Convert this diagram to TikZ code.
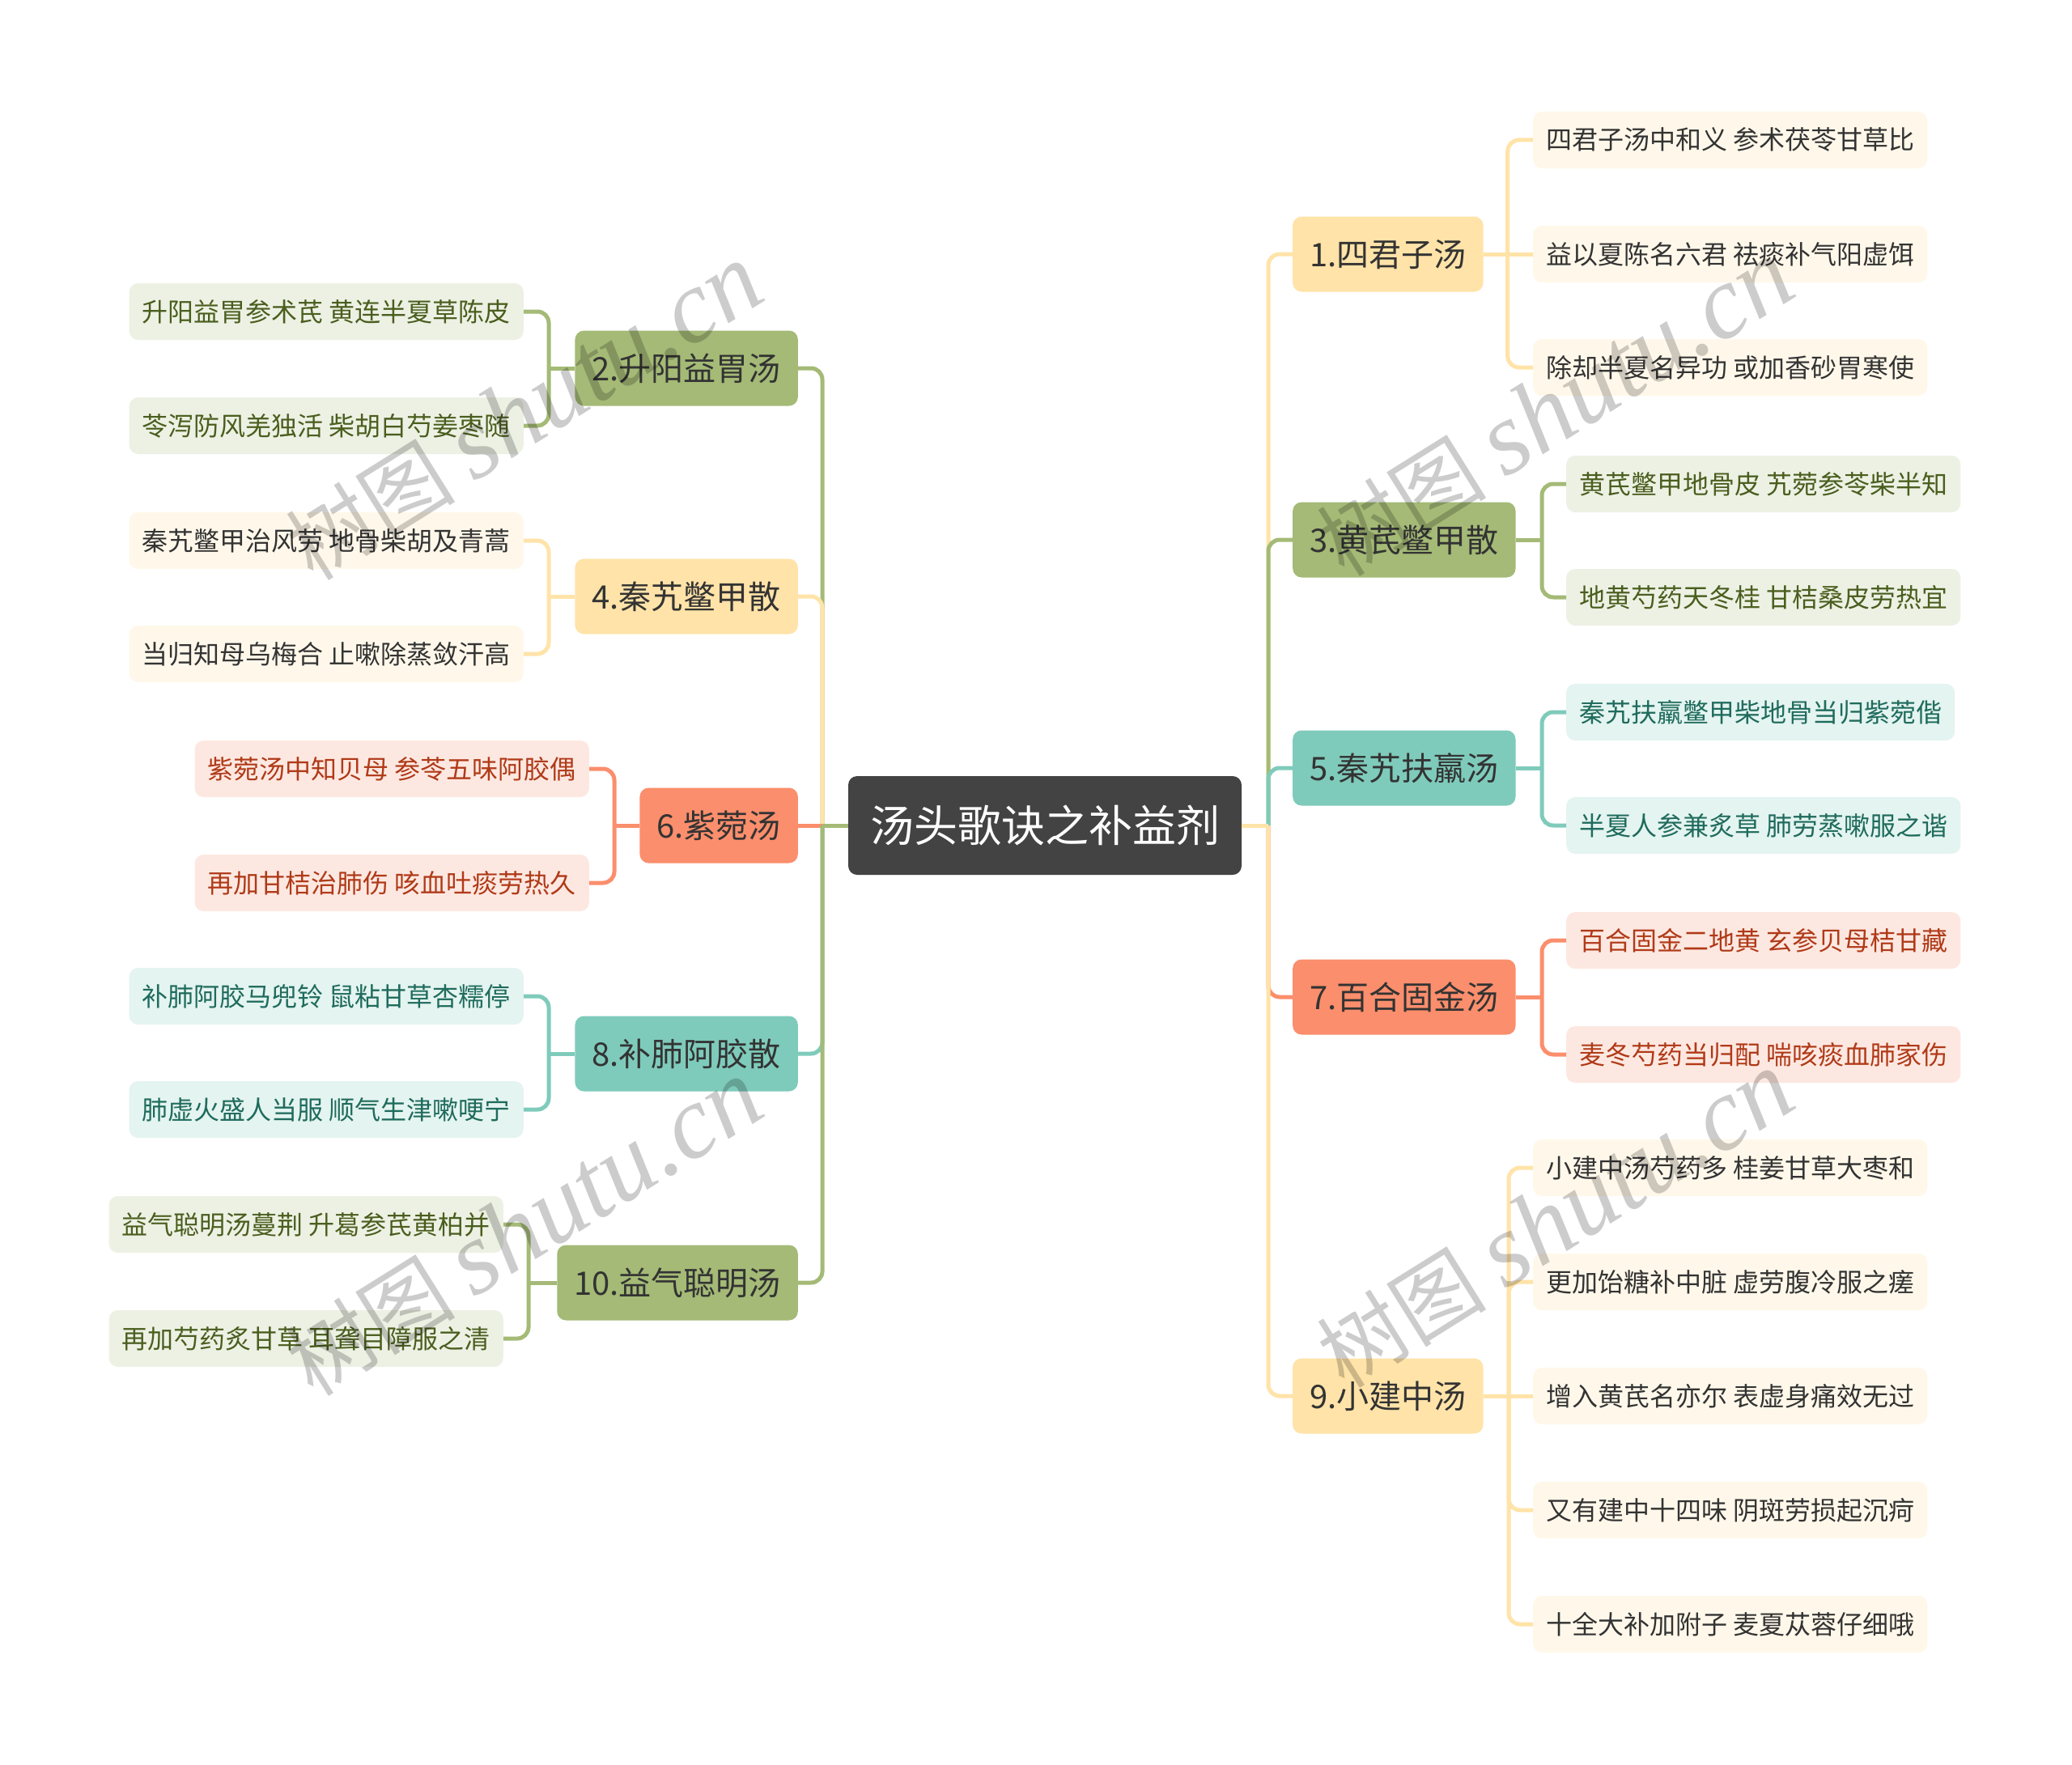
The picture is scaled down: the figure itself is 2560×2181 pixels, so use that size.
\documentclass[tikz,border=0pt]{standalone}
\usepackage{fontspec}
\setmainfont{Noto Sans CJK SC}
\newfontfamily\wmlatin{Liberation Serif}
\usetikzlibrary{calc}
\definecolor{rootc}{HTML}{434343}
\definecolor{yB}{HTML}{FFE3A8}
\definecolor{yL}{HTML}{FFF8EA}
\definecolor{yT}{HTML}{333333}
\definecolor{gB}{HTML}{A4BA76}
\definecolor{gL}{HTML}{EDF1E4}
\definecolor{gT}{HTML}{4A5E1E}
\definecolor{tB}{HTML}{7FCBBB}
\definecolor{tL}{HTML}{E4F4F0}
\definecolor{tT}{HTML}{1F6B5D}
\definecolor{oB}{HTML}{FB8E6C}
\definecolor{oL}{HTML}{FDE8E1}
\definecolor{oT}{HTML}{B03A18}
\tikzset{
  boxbase/.style={rounded corners=11pt, inner ysep=0pt},
  rootbox/.style={boxbase, fill=rootc, text=white, font=\fontsize{54}{64}\selectfont, minimum height=122pt, inner xsep=27pt, text height=46pt, text depth=5.5pt},
  brbox/.style={boxbase, text=yT, font=\fontsize{40}{48}\selectfont, minimum height=93pt, inner xsep=21pt, text height=34pt, text depth=4pt},
  leafbox/.style={boxbase, font=\fontsize{32}{38}\selectfont, minimum height=70pt, inner xsep=16pt, text height=27pt, text depth=3pt},
  leafY/.style={leafbox, fill=yL, text=yT},
  leafG/.style={leafbox, fill=gL, text=gT},
  leafT/.style={leafbox, fill=tL, text=tT},
  leafO/.style={leafbox, fill=oL, text=oT},
  ln/.style={line width=5pt},
  lnY/.style={ln, draw=yB},
  lnG/.style={ln, draw=gB},
  lnT/.style={ln, draw=tB},
  lnO/.style={ln, draw=oB},
  rc/.style={rounded corners=14pt},
  wmark/.style={rotate=32, text=black, text opacity=0.2, inner sep=0pt}
}
\begin{document}
\begin{tikzpicture}[x=1pt, y=-1pt]
\fill[white] (0,0) rectangle (2560,2181);
\useasboundingbox (0,0) rectangle (2560,2181);

% root
\node[rootbox] (root) at (1291,1020) {汤头歌诀之补益剂};
\coordinate (rt) at (1567,1020);
\coordinate (lt) at (1016,1020);

% right branches
\node[brbox, fill=yB, anchor=west] (b1) at (1597,314) {1.四君子汤};
\node[brbox, fill=gB, anchor=west] (b3) at (1597,667) {3.黄芪鳖甲散};
\node[brbox, fill=tB, anchor=west] (b5) at (1597,949) {5.秦艽扶羸汤};
\node[brbox, fill=oB, anchor=west] (b7) at (1597,1232) {7.百合固金汤};
\node[brbox, fill=yB, anchor=west] (b9) at (1597,1725) {9.小建中汤};

% left branches
\node[brbox, fill=gB, anchor=east] (b2) at (986,455) {2.升阳益胃汤};
\node[brbox, fill=yB, anchor=east] (b4) at (986,737) {4.秦艽鳖甲散};
\node[brbox, fill=oB, anchor=east] (b6) at (986,1020) {6.紫菀汤};
\node[brbox, fill=tB, anchor=east] (b8) at (986,1302) {8.补肺阿胶散};
\node[brbox, fill=gB, anchor=east] (b10) at (986,1585) {10.益气聪明汤};

% right leaves
\node[leafY, anchor=west] (l1a) at (1894,173) {四君子汤中和义 参术茯苓甘草比};
\node[leafY, anchor=west] (l1b) at (1894,314) {益以夏陈名六君 祛痰补气阳虚饵};
\node[leafY, anchor=west] (l1c) at (1894,454) {除却半夏名异功 或加香砂胃寒使};
\node[leafG, anchor=west] (l3a) at (1935,598) {黄芪鳖甲地骨皮 艽菀参苓柴半知};
\node[leafG, anchor=west] (l3b) at (1935,738) {地黄芍药天冬桂 甘桔桑皮劳热宜};
\node[leafT, anchor=west] (l5a) at (1935,880) {秦艽扶羸鳖甲柴地骨当归紫菀偕};
\node[leafT, anchor=west] (l5b) at (1935,1020) {半夏人参兼炙草 肺劳蒸嗽服之谐};
\node[leafO, anchor=west] (l7a) at (1935,1162) {百合固金二地黄 玄参贝母桔甘藏};
\node[leafO, anchor=west] (l7b) at (1935,1303) {麦冬芍药当归配 喘咳痰血肺家伤};
\node[leafY, anchor=west] (l9a) at (1894,1443) {小建中汤芍药多 桂姜甘草大枣和};
\node[leafY, anchor=west] (l9b) at (1894,1584) {更加饴糖补中脏 虚劳腹冷服之瘥};
\node[leafY, anchor=west] (l9c) at (1894,1725) {增入黄芪名亦尔 表虚身痛效无过};
\node[leafY, anchor=west] (l9d) at (1894,1866) {又有建中十四味 阴斑劳损起沉疴};
\node[leafY, anchor=west] (l9e) at (1894,2007) {十全大补加附子 麦夏苁蓉仔细哦};

% left leaves
\node[leafG, anchor=east] (l2a) at (647,385) {升阳益胃参术芪 黄连半夏草陈皮};
\node[leafG, anchor=east] (l2b) at (647,526) {苓泻防风羌独活 柴胡白芍姜枣随};
\node[leafY, anchor=east] (l4a) at (647,668) {秦艽鳖甲治风劳 地骨柴胡及青蒿};
\node[leafY, anchor=east] (l4b) at (647,808) {当归知母乌梅合 止嗽除蒸敛汗高};
\node[leafO, anchor=east] (l6a) at (728,950) {紫菀汤中知贝母 参苓五味阿胶偶};
\node[leafO, anchor=east] (l6b) at (728,1091) {再加甘桔治肺伤 咳血吐痰劳热久};
\node[leafT, anchor=east] (l8a) at (647,1231) {补肺阿胶马兜铃 鼠粘甘草杏糯停};
\node[leafT, anchor=east] (l8b) at (647,1371) {肺虚火盛人当服 顺气生津嗽哽宁};
\node[leafG, anchor=east] (l10a) at (622,1513) {益气聪明汤蔓荆 升葛参芪黄柏并};
\node[leafG, anchor=east] (l10b) at (622,1654) {再加芍药炙甘草 耳聋目障服之清};

% root -> branches (drawn in order 1..10)
\draw[lnY] (root.east) -- (rt);  \draw[lnY, rc] (rt) |- (b1.west);
\draw[lnG] (root.west) -- (lt);  \draw[lnG, rc] (lt) |- (b2.east);
\draw[lnG] (root.east) -- (rt);  \draw[lnG, rc] (rt) |- (b3.west);
\draw[lnY] (root.west) -- (lt);  \draw[lnY, rc] (lt) |- (b4.east);
\draw[lnT] (root.east) -- (rt);  \draw[lnT, rc] (rt) |- (b5.west);
\draw[lnO] (root.west) -- (b6.east);
\draw[lnO] (root.east) -- (rt);  \draw[lnO, rc] (rt) |- (b7.west);
\draw[lnT] (root.west) -- (lt);  \draw[lnT, rc] (lt) |- (b8.east);
\draw[lnY] (root.east) -- (rt);  \draw[lnY, rc] (rt) |- (b9.west);
\draw[lnG] (root.west) -- (lt);  \draw[lnG, rc] (lt) |- (b10.east);

% branch -> leaves, right
\coordinate (m1) at ($(b1.east)+(30,0)$);
\draw[lnY] (b1.east) -- (m1);
\draw[lnY, rc] (m1) |- (l1a.west);
\draw[lnY] (m1) -- (l1b.west);
\draw[lnY, rc] (m1) |- (l1c.west);

\coordinate (m3) at ($(l3a.west)+(-30,0)$);
\draw[lnG] (b3.east) -- (m3 |- b3.east);
\draw[lnG, rc] (m3 |- b3.east) |- (l3a.west);
\draw[lnG, rc] (m3 |- b3.east) |- (l3b.west);

\coordinate (m5) at ($(l5a.west)+(-30,0)$);
\draw[lnT] (b5.east) -- (m5 |- b5.east);
\draw[lnT, rc] (m5 |- b5.east) |- (l5a.west);
\draw[lnT, rc] (m5 |- b5.east) |- (l5b.west);

\coordinate (m7) at ($(l7a.west)+(-30,0)$);
\draw[lnO] (b7.east) -- (m7 |- b7.east);
\draw[lnO, rc] (m7 |- b7.east) |- (l7a.west);
\draw[lnO, rc] (m7 |- b7.east) |- (l7b.west);

\coordinate (m9) at ($(l9a.west)+(-30,0)$);
\draw[lnY] (b9.east) -- (m9 |- b9.east);
\draw[lnY, rc] (m9 |- b9.east) |- (l9a.west);
\draw[lnY, rc] (m9 |- b9.east) |- (l9b.west);
\draw[lnY] (m9 |- b9.east) -- (l9c.west);
\draw[lnY, rc] (m9 |- b9.east) |- (l9d.west);
\draw[lnY, rc] (m9 |- b9.east) |- (l9e.west);

% branch -> leaves, left
\coordinate (m2) at ($(l2a.east)+(31,0)$);
\draw[lnG] (b2.west) -- (m2 |- b2.west);
\draw[lnG, rc] (m2 |- b2.west) |- (l2a.east);
\draw[lnG, rc] (m2 |- b2.west) |- (l2b.east);

\coordinate (m4) at ($(l4a.east)+(31,0)$);
\draw[lnY] (b4.west) -- (m4 |- b4.west);
\draw[lnY, rc] (m4 |- b4.west) |- (l4a.east);
\draw[lnY, rc] (m4 |- b4.west) |- (l4b.east);

\coordinate (m6) at ($(l6a.east)+(31,0)$);
\draw[lnO] (b6.west) -- (m6 |- b6.west);
\draw[lnO, rc] (m6 |- b6.west) |- (l6a.east);
\draw[lnO, rc] (m6 |- b6.west) |- (l6b.east);

\coordinate (m8) at ($(l8a.east)+(31,0)$);
\draw[lnT] (b8.west) -- (m8 |- b8.west);
\draw[lnT, rc] (m8 |- b8.west) |- (l8a.east);
\draw[lnT, rc] (m8 |- b8.west) |- (l8b.east);

\coordinate (m10) at ($(l10a.east)+(31,0)$);
\draw[lnG] (b10.west) -- (m10 |- b10.west);
\draw[lnG, rc] (m10 |- b10.west) |- (l10a.east);
\draw[lnG, rc] (m10 |- b10.west) |- (l10b.east);

% watermarks
\node[wmark] (wm1) at (648,510) {\fontsize{105}{110}\selectfont 树图 {\wmlatin\itshape\fontsize{128}{130}\selectfont shutu.cn}};
\node[wmark] (wm2) at (1922,505) {\fontsize{105}{110}\selectfont 树图 {\wmlatin\itshape\fontsize{128}{130}\selectfont shutu.cn}};
\node[wmark] (wm3) at (648,1518) {\fontsize{105}{110}\selectfont 树图 {\wmlatin\itshape\fontsize{128}{130}\selectfont shutu.cn}};
\node[wmark] (wm4) at (1922,1508) {\fontsize{105}{110}\selectfont 树图 {\wmlatin\itshape\fontsize{128}{130}\selectfont shutu.cn}};
\end{tikzpicture}
\end{document}
